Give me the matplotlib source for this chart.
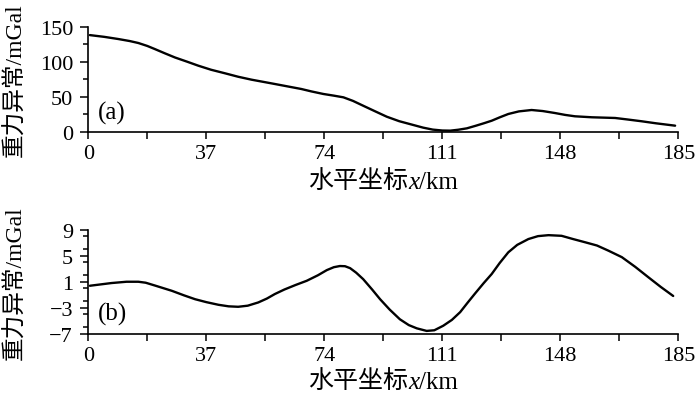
import matplotlib

matplotlib.use("Agg")
import matplotlib.pyplot as plt
from matplotlib.offsetbox import AnnotationBbox, HPacker, TextArea
from matplotlib.ticker import MultipleLocator

plt.rcParams["font.family"] = ["Liberation Serif", "Noto Sans CJK SC"]

# panel (a): gravity anomaly, mGal
x_a = [0.5, 5, 9.4, 13, 15.7, 18.5, 20.9, 24, 27.2, 31, 34.5, 38.5, 42.9, 47,
       51.2, 57.5, 61, 66.8, 70, 73.7, 77, 80, 83, 86.2, 90, 93.6, 97.5, 101.9,
       105, 108, 111, 113.5, 116, 118.7, 121.5, 124, 126.5, 129, 131.7, 135,
       139, 142.5, 146.3, 149.5, 152.6, 157.9, 165.2, 169, 173.5, 178, 184]
y_a = [138, 135.5, 132.4, 129.5, 126.7, 122.5, 118, 112, 106, 100, 94.3, 88.5,
       83.4, 78.5, 74.3, 69, 66, 61, 57.5, 53.9, 51.5, 49.1, 44, 37.1, 29, 21.4,
       15, 9.6, 5.8, 3, 1.7, 1.5, 2.8, 4.8, 8.5, 12, 15.7, 20.5, 25.3, 29,
       31, 29.5, 26.7, 24, 22, 20.6, 19.6, 17.5, 14.9, 12, 8.6]

# panel (b): gravity anomaly, mGal
x_b = [0.5, 7.3, 12, 15.7, 18, 21, 26.2, 30, 33.5, 37, 40.8, 44, 47, 50, 53.3,
       56, 58.5, 61.5, 65, 68.5, 72, 74.8, 77, 78.9, 80.5, 82.1, 84, 86.2, 89,
       91.5, 94.5, 97.7, 100.5, 103, 106.1, 108.5, 111.3, 114, 116.6, 119,
       121.3, 124, 126.5, 129, 131.7, 134.5, 138, 141, 144.3, 148.4, 152,
       155.8, 159.5, 163.1, 167.3, 171.5, 175.6, 179.5, 183.4]
y_b = [0.38, 0.8, 1.0, 1.0, 0.85, 0.4, -0.4, -1.1, -1.7, -2.15, -2.56, -2.8,
       -2.87, -2.7, -2.2, -1.6, -0.9, -0.2, 0.5, 1.15, 2.0, 2.8, 3.25, 3.43, 3.4,
       3.1, 2.4, 1.4, -0.2, -1.7, -3.3, -4.8, -5.7, -6.2, -6.6, -6.5, -5.8, -4.9,
       -3.7, -2.2, -0.8, 0.8, 2.2, 3.9, 5.55, 6.7, 7.6, 8.05, 8.2, 8.1, 7.6,
       7.1, 6.6, 5.8, 4.8, 3.3, 1.7, 0.2, -1.2]

x_ticks = [0, 37, 74, 111, 148, 185]
ya_ticks = [0, 50, 100, 150]
yb_ticks = [-7, -3, 1, 5, 9]

# x label pieces: (text, style); the x is italic
xlabel_parts = [("水平坐标", "normal"), ("x", "italic"), ("/km", "normal")]
ylabel = "重力异常/mGal"

fig = plt.figure(figsize=(7.0, 4.02), dpi=100)
ax_a = fig.add_axes([0.1261, 0.6699, 0.8429, 0.2612])
ax_b = fig.add_axes([0.1261, 0.1679, 0.8429, 0.2575])


def add_xlabel(ax, y):
    boxes = [TextArea(t, textprops=dict(fontsize=18, style=st, color="black"))
             for t, st in xlabel_parts]
    pack = HPacker(children=boxes, pad=0, sep=0, align="baseline")
    ab = AnnotationBbox(pack, (0.5, y), xycoords=ax.transAxes,
                        box_alignment=(0.5, 1.0), frameon=False,
                        annotation_clip=False)
    ax.add_artist(ab)


def style(ax, yticks, ylim, yminor, tag, tag_y, xlab_y):
    ax.set_xlim(0, 185)
    ax.set_ylim(*ylim)
    ax.set_xticks(x_ticks)
    ax.xaxis.set_minor_locator(MultipleLocator(18.5))
    ax.set_yticks(yticks)
    ax.yaxis.set_minor_locator(MultipleLocator(yminor))
    for s in ("top", "right"):
        ax.spines[s].set_visible(False)
    for s in ("left", "bottom"):
        ax.spines[s].set_linewidth(1.2)
    ax.tick_params(axis="x", which="both", direction="out", length=5, width=1.1,
                   labelsize=16, pad=4)
    ax.tick_params(axis="y", which="major", direction="out", length=6, width=1.1,
                   labelsize=16, pad=5)
    ax.tick_params(axis="y", which="minor", direction="out", length=3.5, width=1.1)
    add_xlabel(ax, xlab_y)
    ax.set_ylabel(ylabel, fontsize=17)
    ax.yaxis.set_label_coords(-0.104, 0.5)
    ax.text(0.016, tag_y, tag, transform=ax.transAxes, fontsize=18,
            ha="left", va="center")


ax_a.plot(x_a, y_a, color="black", lw=1.7, solid_capstyle="round")
style(ax_a, ya_ticks, (0, 150), 25, "(a)", 0.18, -0.36)

ax_b.plot(x_b, y_b, color="black", lw=1.7, solid_capstyle="round")
style(ax_b, yb_ticks, (-7, 9), 2, "(b)", 0.19, -0.35)

fig.savefig("out.png", dpi=100)
